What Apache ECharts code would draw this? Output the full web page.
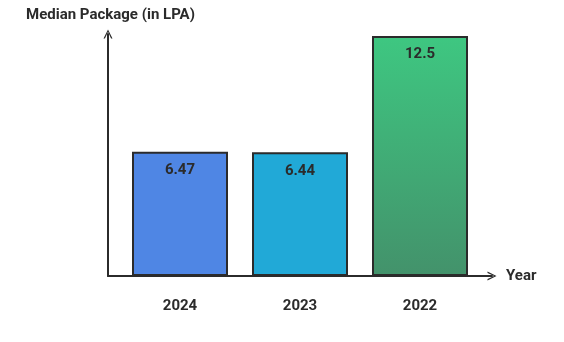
<!DOCTYPE html>
<html>
<head>
<meta charset="utf-8">
<script src="https://cdn.jsdelivr.net/npm/echarts@6/dist/echarts.min.js"></script>
<style>
  html, body { margin: 0; padding: 0; background: #fff; }
  #main { width: 564px; height: 342px; }
</style>
</head>
<body>
<div id="main"></div>
<script>
  // data
  var years = ['2024', '2023', '2022'];
  var medianPackage = [6.47, 6.44, 12.5];
  var barColors = ['#4f86e4', '#21a9d7', null];

  var ink = '#2b2b2b';
  var chevron = 'path://M0,10 L5,0 L10,10 L8.4,10 L5,2.6 L1.6,10 Z';

  var myChart = echarts.init(document.getElementById('main'));

  var barData = medianPackage.map(function (v, i) {
    var color = barColors[i];
    if (!color) {
      color = new echarts.graphic.LinearGradient(0, 0, 0, 1, [
        {offset: 0, color: '#3ec781'},
        {offset: 1, color: '#43926b'}
      ]);
    }
    return {value: v, itemStyle: {color: color}};
  });

  var option = {
    animation: false,
    textStyle: {fontFamily: 'Roboto'},
    title: {
      text: 'Median Package (in LPA)',
      left: 21,
      top: 3,
      textStyle: {color: ink, fontSize: 15, fontWeight: 'bold', fontFamily: 'Roboto'}
    },
    grid: [
      // bars
      {left: 120, right: 84, top: 36, bottom: 66},
      // axis lines with arrows
      {left: 108, right: 72, top: 34, bottom: 66}
    ],
    xAxis: [{
      type: 'category',
      gridIndex: 0,
      data: years,
      axisLine: {show: false},
      axisTick: {show: false},
      axisLabel: {
        margin: 23,
        color: ink,
        fontSize: 15,
        fontWeight: 'bold'
      }
    }, {
      type: 'value',
      gridIndex: 1,
      min: 0,
      max: 1,
      name: 'Year',
      nameLocation: 'end',
      nameGap: 14,
      nameTextStyle: {color: ink, fontSize: 15, fontWeight: 'bold'},
      axisLine: {
        show: true,
        symbol: ['none', chevron],
        symbolSize: [14, 9],
        lineStyle: {color: ink, width: 2}
      },
      axisTick: {show: false},
      axisLabel: {show: false},
      splitLine: {show: false}
    }],
    yAxis: [{
      type: 'value',
      gridIndex: 0,
      min: 0,
      max: 12.5,
      show: false
    }, {
      type: 'value',
      gridIndex: 1,
      min: 0,
      max: 1,
      axisLine: {
        show: true,
        symbol: ['none', chevron],
        symbolSize: [13, 9],
        lineStyle: {color: ink, width: 2}
      },
      axisTick: {show: false},
      axisLabel: {show: false},
      splitLine: {show: false}
    }],
    series: [{
      name: 'Median Package',
      type: 'bar',
      xAxisIndex: 0,
      yAxisIndex: 0,
      barWidth: 96,
      data: barData,
      itemStyle: {
        borderColor: ink,
        borderWidth: 2
      },
      label: {
        show: true,
        position: 'insideTop',
        distance: 11,
        color: ink,
        fontSize: 15,
        fontWeight: 'bold'
      }
    }]
  };
  myChart.setOption(option);
</script>
</body>
</html>
